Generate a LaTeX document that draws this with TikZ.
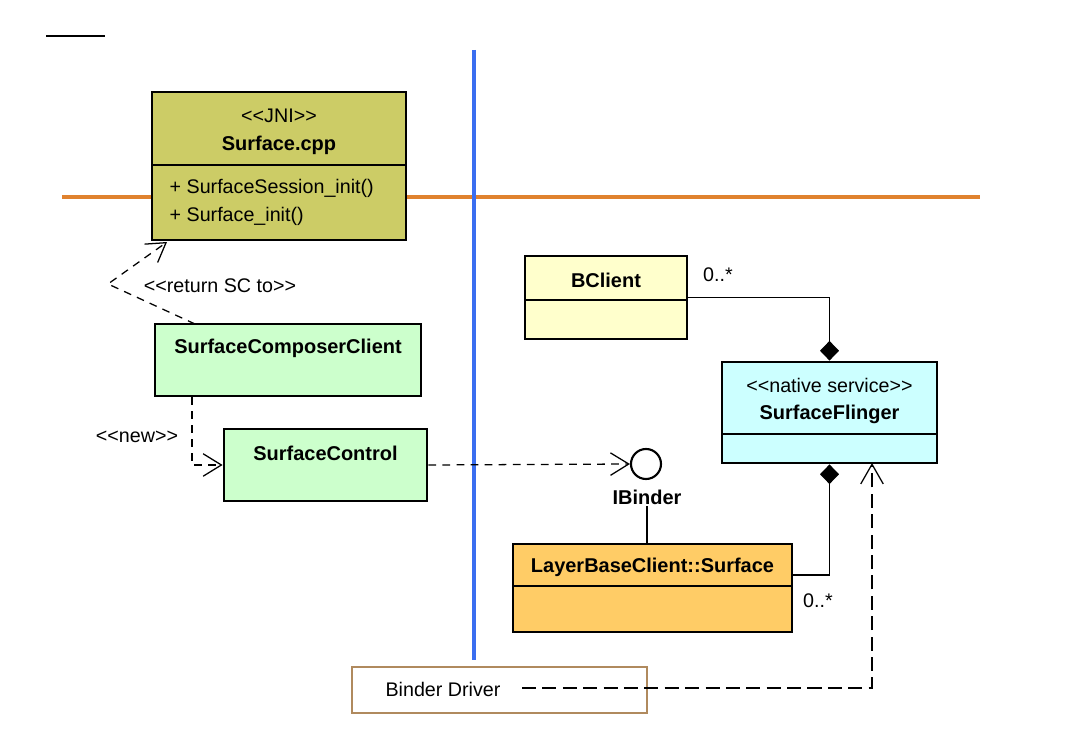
\documentclass[tikz,border=0pt]{standalone}
\usepackage{fontspec}
\setmainfont{Liberation Sans}[Ligatures=TeXOff]
\usepackage{xcolor}
\usetikzlibrary{arrows.meta,positioning}

\definecolor{jnicol}{HTML}{CCCC66}
\definecolor{clientcol}{HTML}{CCFFCC}
\definecolor{bclientcol}{HTML}{FFFFCC}
\definecolor{flingercol}{HTML}{CCFFFF}
\definecolor{layercol}{HTML}{FFCC66}
\definecolor{drivercol}{HTML}{B08A5E}
\definecolor{splitblue}{HTML}{3A6EF0}
\definecolor{splitorange}{HTML}{E0822E}

\tikzset{
  classbox/.style={draw=black, line width=2pt, inner sep=0pt},
  classname/.style={font=\bfseries\fontsize{14.2}{17}\selectfont, inner sep=1pt},
  stereo/.style={font=\fontsize{14}{17}\selectfont, inner sep=1pt},
  member/.style={font=\fontsize{14}{17}\selectfont, inner sep=1pt, anchor=west},
  divider/.style={line width=1pt},
  dep/.style={line width=0.9pt, dash pattern=on 5.5pt off 4.5pt,
    -{Straight Barb[length=13pt,width=16pt]}},
  ipc/.style={line width=0.9pt, dash pattern=on 10pt off 4.5pt,
    -{Straight Barb[length=14pt,width=16pt]}},
  comp/.style={line width=0.9pt, -{Diamond[length=14pt,width=13.5pt,fill=black]}},
  assoc/.style={line width=0.9pt},
}

\begin{document}
\begin{tikzpicture}[x=0.025cm,y=-0.025cm]
    \useasboundingbox (0,0) rectangle (1088,740);
    \draw[line width=1.2pt] (46,36) -- (105,36);
    \draw[splitorange, line width=2.4pt] (62,197) -- (980,197);
    \draw[splitblue, line width=2.4pt] (474,50) -- (474,660);

    \node[classbox, fill=jnicol, minimum width=254*0.025cm, minimum height=148*0.025cm] (surfacecpp) at (279,166) {};
    \draw[divider] (152,165) -- (406,165);
    \node[stereo] (jni) at (279,116) {<<JNI>>};
    \node[classname] (cppname) at (279,145) {Surface.cpp};
    \node[member] (sessinit) at (168,188) {+ SurfaceSession\_init()};
    \node[member] (surfinit) at (168,216) {+ Surface\_init()};

    \node[classbox, fill=clientcol, minimum width=266*0.025cm, minimum height=72*0.025cm] (scc) at (288,360) {};
    \node[classname] (sccname) at (288,348) {SurfaceComposerClient};

    \node[classbox, fill=clientcol, minimum width=203*0.025cm, minimum height=72*0.025cm] (sctrl) at (325.5,465) {};
    \node[classname] (sctrlname) at (325.5,453) {SurfaceControl};

    \node[classbox, fill=bclientcol, minimum width=162*0.025cm, minimum height=83*0.025cm] (bclient) at (606,297.5) {};
    \draw[divider] (525,300) -- (687,300);
    \node[classname] (bclientname) at (606,280) {BClient};

    \node[classbox, fill=flingercol, minimum width=215*0.025cm, minimum height=101*0.025cm] (sf) at (829.5,412.5) {};
    \draw[divider] (722,434) -- (937,434);
    \node[stereo] (nativesvc) at (829.5,385) {<<native service>>};
    \node[classname] (sfname) at (829.5,414) {SurfaceFlinger};

    \node[classbox, fill=layercol, minimum width=279*0.025cm, minimum height=88*0.025cm] (layer) at (652.5,588) {};
    \draw[divider] (513,586) -- (792,586);
    \node[classname] (layername) at (652.5,567) {LayerBaseClient::Surface};

    \node[circle, draw, line width=1.5pt, minimum size=30*0.025cm, inner sep=0pt] (ibinder) at (646,464) {};
    \node[classname] (ibinderlbl) at (647,497) {IBinder};

    \node[draw=drivercol, line width=1pt, minimum width=295*0.025cm, minimum height=46*0.025cm] (driver) at (499.5,690) {};
    \node[stereo] (drivertxt) at (443,689) {Binder Driver};

    \coordinate (retstart) at (195,324);
    \coordinate (retbend) at (108,284);
    \coordinate (retend) at (167,242);
    \coordinate (newstart) at (192,397);
    \coordinate (layerout) at (792,575);
    \coordinate (drvout) at (522,688);
    \coordinate (sfdrv) at (872,463);

    \draw[dep] (retstart) -- (retbend) -- (retend);
    \node[stereo] (retlbl) at (220,286) {<<return SC to>>};
    \draw[dep] (newstart) |- (sctrl.west);
    \node[stereo] (newlbl) at (137,437) {<<new>>};
    \draw[dep] (sctrl.east) -- (ibinder.west);
    \draw[assoc] (ibinderlbl.south) -- (ibinderlbl.south |- layer.north);

    \draw[comp] (bclient.east) -| (sf.north);
    \node[stereo] (bmult) at (718,275) {0..*};
    \draw[comp] (layerout) -| (sf.south);
    \node[stereo] (lmult) at (818,601) {0..*};
    \draw[ipc] (drvout) -| (sfdrv);
\end{tikzpicture}
\end{document}
